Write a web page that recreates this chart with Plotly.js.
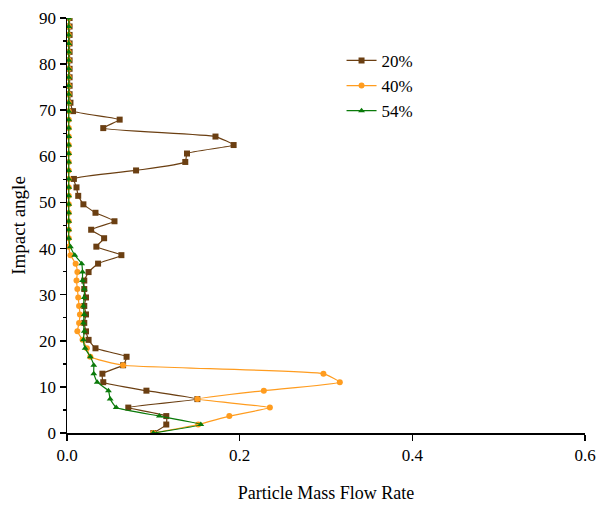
<!DOCTYPE html>
<html><head><meta charset="utf-8">
<script src="https://cdn.plot.ly/plotly-3.0.1.min.js"></script>
<style>body{margin:0}#plot{width:606px;height:506px}</style>
</head><body><div id="plot"></div>
<script>
// impact angle bins (deg), 50 bins over 0..90
const angles = [];
for (let i = 0; i < 50; i++) angles.push(+(i * 90 / 49).toFixed(2));

const rate20 = [0.1, 0.115, 0.115, 0.071, 0.151, 0.092, 0.042, 0.041, 0.065, 0.069,
  0.033, 0.025, 0.022, 0.02, 0.022, 0.02, 0.022, 0.02, 0.02, 0.025,
  0.036, 0.063, 0.034, 0.043, 0.028, 0.055, 0.033, 0.019, 0.013, 0.011,
  0.008, 0.08, 0.137, 0.139, 0.193, 0.172, 0.042, 0.061, 0.007, 0.004,
  0.003, 0.003, 0.003, 0.003, 0.003, 0.003, 0.003, 0.003, 0.003, 0.003];
const rate40 = [0.1, 0.152, 0.188, 0.235, 0.151, 0.228, 0.316, 0.297, 0.065, 0.027,
  0.023, 0.018, 0.012, 0.014, 0.015, 0.014, 0.013, 0.012, 0.011, 0.012,
  0.01, 0.004, 0.002, 0.002, 0.002, 0.002, 0.002, 0.002, 0.002, 0.002,
  0.002, 0.002, 0.002, 0.002, 0.002, 0.002, 0.002, 0.002, 0.002, 0.002,
  0.002, 0.002, 0.002, 0.002, 0.002, 0.002, 0.002, 0.002, 0.002, 0.002];
const rate54 = [0.1, 0.155, 0.107, 0.057, 0.05, 0.048, 0.035, 0.031, 0.031, 0.027,
  0.021, 0.019, 0.02, 0.019, 0.02, 0.019, 0.02, 0.02, 0.018, 0.018,
  0.017, 0.009, 0.004, 0.002, 0.002, 0.002, 0.002, 0.002, 0.002, 0.002,
  0.002, 0.002, 0.002, 0.002, 0.002, 0.002, 0.002, 0.002, 0.002, 0.002,
  0.002, 0.002, 0.002, 0.002, 0.002, 0.002, 0.002, 0.002, 0.002, 0.002];

const series = [
  { name: '20%', x: rate20, color: '#6b3f12', symbol: 'square' },
  { name: '40%', x: rate40, color: '#ff9c1f', symbol: 'circle' },
  { name: '54%', x: rate54, color: '#0a7a0a', symbol: 'triangle-up' }
];

const traces = series.map(s => ({
  x: s.x, y: angles, name: s.name, type: 'scatter', mode: 'lines+markers',
  line: { color: s.color, width: 1.2, shape: 'spline', smoothing: 0.4 },
  marker: { color: s.color, symbol: s.symbol, size: 6 }
}));

const axisStyle = {
  showgrid: false, zeroline: false, showline: true, linecolor: '#000', linewidth: 1.5,
  ticks: 'outside', ticklen: 6, tickwidth: 1.5, tickcolor: '#000',
  tickfont: { size: 17, color: '#000' }
};

const layout = {
  width: 606, height: 506,
  margin: { l: 67, r: 21, t: 18, b: 73 },
  font: { family: 'Liberation Serif, Times New Roman, serif', color: '#000' },
  paper_bgcolor: '#fff', plot_bgcolor: '#fff',
  xaxis: Object.assign({}, axisStyle, {
    range: [0, 0.6], dtick: 0.2, tickformat: '.1f',
    title: { text: 'Particle Mass Flow Rate', font: { size: 18 }, standoff: 22 }
  }),
  yaxis: Object.assign({}, axisStyle, {
    range: [0, 90], dtick: 10,
    minor: { ticks: 'outside', ticklen: 3, tickcolor: '#000', dtick: 5 },
    title: { text: 'Impact angle', font: { size: 19 }, standoff: 8 }
  }),
  legend: { x: 0.53, y: 0.94, xanchor: 'left', yanchor: 'top', font: { size: 17 }, bgcolor: 'rgba(0,0,0,0)' }
};

Plotly.newPlot('plot', traces, layout, { staticPlot: true });
</script></body></html>
